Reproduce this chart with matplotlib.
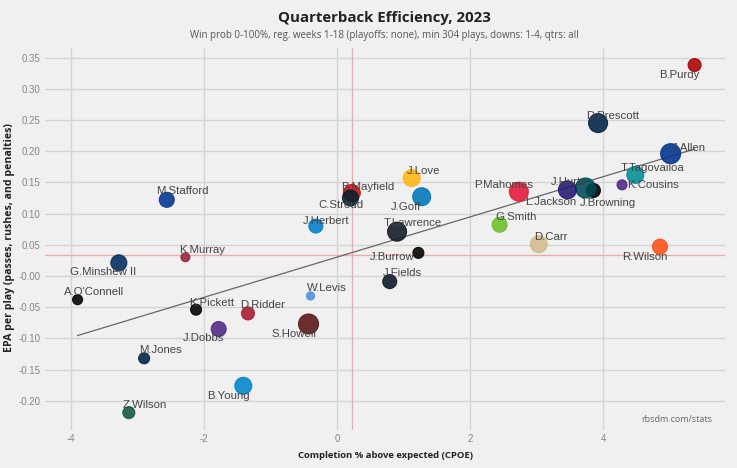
import numpy as np
import matplotlib
matplotlib.use('Agg')
import matplotlib.pyplot as plt

# QB data
names = ['B.Purdy', 'D.Prescott', 'J.Allen', 'T.Tagovailoa', 'K.Cousins', 'J.Browning',
         'J.Hurts', 'L.Jackson', 'P.Mahomes', 'G.Smith', 'D.Carr', 'R.Wilson',
         'J.Love', 'J.Goff', 'B.Mayfield', 'C.Stroud', 'J.Herbert', 'T.Lawrence',
         'J.Burrow', 'J.Fields', 'W.Levis', 'K.Pickett', 'D.Ridder', 'J.Dobbs',
         'S.Howell', 'B.Young', 'G.Minshew II', "A.O'Connell", 'K.Murray', 'M.Jones',
         'Z.Wilson', 'M.Stafford']
cpoe = [5.37, 3.92, 5.01, 4.48, 4.28, 3.85,
        3.73, 3.46, 2.73, 2.44, 3.03, 4.85,
        1.12, 1.27, 0.22, 0.20, -0.32, 0.90,
        1.22, 0.79, -0.40, -2.12, -1.34, -1.78,
        -0.43, -1.41, -3.28, -3.90, -2.28, -2.90,
        -3.13, -2.56]
epa = [0.338, 0.245, 0.196, 0.162, 0.146, 0.137,
       0.141, 0.138, 0.135, 0.082, 0.051, 0.047,
       0.157, 0.127, 0.133, 0.125, 0.080, 0.071,
       0.037, -0.009, -0.032, -0.054, -0.060, -0.085,
       -0.077, -0.176, 0.021, -0.038, 0.030, -0.132,
       -0.219, 0.122]
plays = [467, 667, 700, 600, 367, 500,
         700, 633, 667, 533, 600, 533,
         600, 633, 600, 567, 500, 667,
         400, 500, 304, 400, 467, 533,
         700, 600, 567, 367, 333, 400,
         433, 533]
colors = ['#AA0000', '#002244', '#00338D', '#008E97', '#4F2683', '#000000',
          '#004C54', '#241773', '#E31837', '#69BE28', '#D3BC8D', '#FB4F14',
          '#FFB612', '#0076B6', '#D50A0A', '#03202F', '#0080C6', '#101820',
          '#000000', '#0B162A', '#4B92DB', '#000000', '#A71930', '#4F2683',
          '#5A1414', '#0085CA', '#002C5F', '#000000', '#97233F', '#002244',
          '#125740', '#003594']

league_cpoe = 0.22
league_epa = 0.034

# label offsets in pixels (dx right, dy up)
offsets = {
    'B.Purdy': (-15, -10), 'D.Prescott': (15, 7), 'J.Allen': (18, 6),
    'T.Tagovailoa': (17, 7), 'K.Cousins': (31, 0), 'J.Browning': (15, -13),
    'J.Hurts': (-17, 6), 'L.Jackson': (-17, -12), 'P.Mahomes': (-15, 7),
    'G.Smith': (16, 8), 'D.Carr': (12, 7), 'R.Wilson': (-15, -10),
    'J.Love': (12, 7), 'J.Goff': (-16, -10), 'B.Mayfield': (16, 6),
    'C.Stroud': (-10, -7), 'J.Herbert': (10, 5), 'T.Lawrence': (16, 9),
    'J.Burrow': (-26, -4), 'J.Fields': (13, 9), 'W.Levis': (16, 8),
    'K.Pickett': (16, 7), 'D.Ridder': (15, 8), 'J.Dobbs': (-15, -9),
    'S.Howell': (-15, -10), 'B.Young': (-15, -10), 'G.Minshew II': (-16, -9),
    "A.O'Connell": (16, 8), 'K.Murray': (17, 7), 'M.Jones': (16, 8),
    'Z.Wilson': (16, 8), 'M.Stafford': (16, 9),
}

plt.rcParams['font.family'] = ['Liberation Sans', 'DejaVu Sans']
plt.rcParams['axes.unicode_minus'] = False

bg = '#F0F0F0'
fig = plt.figure(figsize=(7.37, 4.68), dpi=100, facecolor=bg)
ax = fig.add_axes([0.061, 0.081, 0.923, 0.816], facecolor=bg)

ax.set_xlim(-4.39, 5.83)
ax.set_ylim(-0.247, 0.365)
ax.set_xticks([-4, -2, 0, 2, 4])
ax.set_yticks(np.arange(-0.20, 0.351, 0.05))
ax.yaxis.set_major_formatter(matplotlib.ticker.FormatStrFormatter('%.2f'))
ax.grid(True, color='#D4D4D4', linewidth=1)
ax.set_axisbelow(True)
for sp in ax.spines.values():
    sp.set_visible(False)
ax.tick_params(axis='y', length=0, labelsize=7, labelcolor='#858585', pad=3)
ax.tick_params(axis='x', length=0, labelsize=7, labelcolor='#858585', pad=3)

# league average lines
ax.axvline(league_cpoe, color='#F2A8A8', linewidth=0.9, zorder=1)
ax.axhline(league_epa, color='#F2A8A8', linewidth=0.9, zorder=1)

# fit line
x = np.array(cpoe)
y = np.array(epa)
k, b = np.polyfit(x, y, 1)
xs = np.array([x.min(), x.max()])
ax.plot(xs, k * xs + b, color='#666666', linewidth=0.9, zorder=2)

# points
p = np.array(plays)
diam = 8 + (p - 300) / 400 * 12
ax.scatter(x, y, s=(diam * 0.72) ** 2, c=colors, alpha=0.88,
           edgecolors=colors, linewidths=0.8, zorder=3)

for n, xi, yi in zip(names, cpoe, epa):
    dx, dy = offsets[n]
    ax.annotate(n, (xi, yi), xytext=(dx, dy), textcoords='offset pixels',
                ha='center', va='center', fontsize=8.2, color='#444444', zorder=4)

ax.set_xlabel('Completion % above expected (CPOE)', fontsize=6.8,
              fontweight='bold', family='Open Sans', color='#222222')
ax.xaxis.set_label_coords(0.5, -0.055)
ax.set_ylabel('EPA per play (passes, rushes, and penalties)', fontsize=7.6,
              fontweight='bold', family='Open Sans', color='#222222')
ax.yaxis.set_label_coords(-0.044, 0.503)

fig.text(0.522, 0.961, 'Quarterback Efficiency, 2023', ha='center', va='center',
         fontsize=10.8, fontweight='bold', family='Open Sans', color='#222222')
fig.text(0.522, 0.924, 'Win prob 0-100%, reg. weeks 1-18 (playoffs: none), min 304 plays, downs: 1-4, qtrs: all',
         ha='center', va='center', fontsize=7, family='Open Sans', color='#555555')
ax.text(0.981, 0.029, 'rbsdm.com/stats', transform=ax.transAxes, ha='right',
        va='center', fontsize=6.5, family='Open Sans', color='#666666')

fig.savefig('out.png', dpi=100, facecolor=bg)
